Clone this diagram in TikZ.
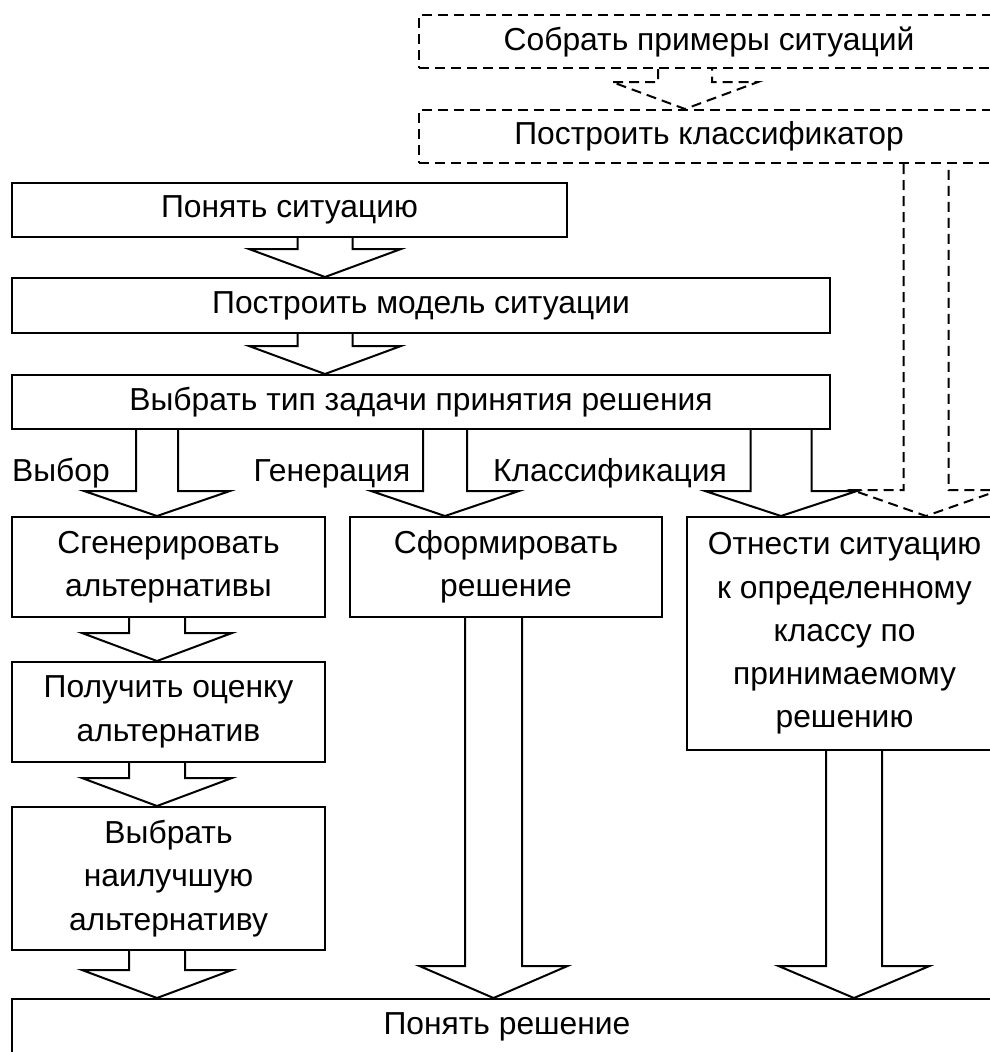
\documentclass[tikz,border=0pt]{standalone}
\usepackage{fontspec}
\setmainfont{Liberation Sans}
\usetikzlibrary{calc}

\newcommand\boxfont{\fontsize{31.8}{43.3}\selectfont}

\tikzset{
  stepbox/.style={draw, line width=2pt, rectangle, inner sep=0pt, align=center, font=\boxfont},
  planbox/.style={stepbox, dash pattern=on 10pt off 6pt},
  blk/.style={draw, line width=2pt, line join=miter},
  dblk/.style={blk, dash pattern=on 10pt off 6pt},
  tag/.style={font=\boxfont, anchor=base, inner sep=0pt}
}

% hollow block arrow from the bottom of one box to the top of another
% #1 style, #2 source, #3 target, #4 axis x, #5 stem half width, #6 head half width, #7 head length
\newcommand\blockarrow[7][blk]{%
  \draw[#1] ({#4-#5},0 |- #2.south)
    -- ($({#4-#5},0 |- #3.north)+(0,-#7)$)
    -- ($({#4-#6},0 |- #3.north)+(0,-#7)$)
    -- ({#4},0 |- #3.north)
    -- ($({#4+#6},0 |- #3.north)+(0,-#7)$)
    -- ($({#4+#5},0 |- #3.north)+(0,-#7)$)
    -- ({#4+#5},0 |- #2.south);}

\begin{document}
\begin{tikzpicture}[x=1pt, y=-1pt]
\useasboundingbox (0,0) rectangle (990,1052);
\fill[white] (0,0) rectangle (990,1052);
\clip (0,0) rectangle (990,1052);

% classifier preparation (dashed)
\node[planbox, minimum width=580pt, minimum height=53pt] (collect) at (709,41.5) {Собрать примеры ситуаций};
\node[planbox, minimum width=580pt, minimum height=53pt] (classifier) at (709,136.5) {Построить классификатор};

% main chain
\node[stepbox, minimum width=555pt, minimum height=54pt] (understand) at (289.5,210) {Понять ситуацию};
\node[stepbox, minimum width=818pt, minimum height=55pt] (model) at (421,305.5) {Построить модель ситуации};
\node[stepbox, minimum width=818pt, minimum height=54pt] (choosetype) at (421,402) {Выбрать тип задачи принятия решения};

% branches
\node[stepbox, minimum width=313pt, minimum height=100pt] (generate) at (168.5,567) {Сгенерировать\\альтернативы};
\node[stepbox, minimum width=313pt, minimum height=100pt] (evaluate) at (168.5,712) {Получить оценку\\альтернатив};
\node[stepbox, minimum width=313pt, minimum height=143pt] (best) at (168.5,878.5) {Выбрать\\наилучшую\\альтернативу};
\node[stepbox, minimum width=312pt, minimum height=100pt] (form) at (506,567) {Сформировать\\решение};
\node[stepbox, minimum width=315pt, minimum height=233pt] (assign) at (844.5,633.5) {Отнести ситуацию\\к определенному\\классу по\\принимаемому\\решению};

\node[stepbox, minimum width=990pt, minimum height=56pt] (decision) at (507,1027) {Понять решение};

% branch labels
\node[tag] (lchoice) at (61,481) {Выбор};
\node[tag] (lgen) at (332,481) {Генерация};
\node[tag] (lclass) at (610,481) {Классификация};

% arrows
\blockarrow[dblk]{collect}{classifier}{685}{27}{73}{27}
\blockarrow[dblk]{classifier}{assign}{926}{22.5}{74}{26}

\blockarrow{understand}{model}{325}{27.5}{76}{28}
\blockarrow{model}{choosetype}{325}{27.5}{76}{28}

\blockarrow{choosetype}{generate}{157}{21}{73}{25}
\blockarrow{choosetype}{form}{445}{22}{74}{25}
\blockarrow{choosetype}{assign}{781}{30.5}{76}{25}

\blockarrow{generate}{evaluate}{157}{28}{75}{28}
\blockarrow{evaluate}{best}{157}{28}{75}{28}
\blockarrow{best}{decision}{157}{28}{75}{28}
\blockarrow{form}{decision}{493.5}{28.5}{74}{32}
\blockarrow{assign}{decision}{854}{28}{75.5}{32}
\end{tikzpicture}
\end{document}
